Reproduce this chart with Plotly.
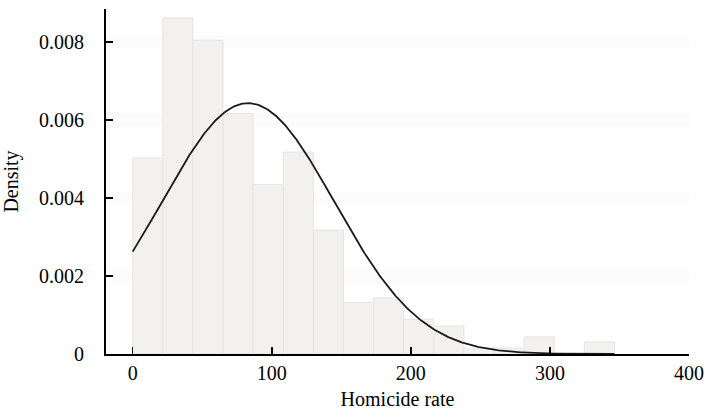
import numpy as np
import plotly.graph_objects as go

# Histogram bins (homicide rate) and densities
bin_width = 21.65
bin_starts = [0, 21.65, 43.3, 64.95, 86.6, 108.25, 129.9, 151.55, 173.2,
              194.85, 216.5, 238.15, 259.8, 281.45, 303.1, 324.75]
densities = [0.00503, 0.00862, 0.00805, 0.00617, 0.00435, 0.00518, 0.00318,
             0.00132, 0.00144, 0.00089, 0.00072, 0.00015, 0.00015, 0.00044,
             0.0, 0.00031]

# Fitted normal density parameters
norm_mean = 83.0
norm_sd = 62.0
data_min, data_max = 0.0, 346.4

x_ticks = [0, 100, 200, 300, 400]
y_ticks = [0, 0.002, 0.004, 0.006, 0.008]
y_tick_labels = ["0", "0.002", "0.004", "0.006", "0.008"]

bin_centers = [s + bin_width / 2 for s in bin_starts]

xs = np.linspace(data_min, data_max, 400)
ys = np.exp(-0.5 * ((xs - norm_mean) / norm_sd) ** 2) / (norm_sd * np.sqrt(2 * np.pi))

fig = go.Figure()
fig.add_trace(go.Bar(
    x=bin_centers, y=densities, width=bin_width,
    marker=dict(color="#f2f1f0", line=dict(color="#e6e5e3", width=1)),
    hoverinfo="skip", showlegend=False,
))
fig.add_trace(go.Scatter(
    x=xs, y=ys, mode="lines",
    line=dict(color="#1a1a1a", width=1.8),
    hoverinfo="skip", showlegend=False,
))

font_family = "Liberation Serif"
fig.update_layout(
    width=707, height=410,
    margin=dict(l=106, r=18, t=9, b=56),
    paper_bgcolor="white", plot_bgcolor="white",
    font=dict(family=font_family, size=20, color="black"),
    bargap=0,
    xaxis=dict(
        range=[-19.2, 400], tickvals=x_ticks, ticks="inside", ticklen=7,
        tickwidth=1.5, tickcolor="black", showline=True, linecolor="black",
        linewidth=2, showgrid=False, zeroline=False, automargin=False,
        title=dict(text="Homicide rate", standoff=10, font=dict(size=20)),
        ticklabelstandoff=0,
    ),
    yaxis=dict(
        range=[0, 0.00885], tickvals=y_ticks, ticktext=y_tick_labels,
        ticks="inside", ticklen=7, tickwidth=1.5, tickcolor="black",
        showline=True, linecolor="black", linewidth=2, automargin=False,
        showgrid=True, gridcolor="#fcfcfc", gridwidth=14, zeroline=False,
        title=dict(text="Density", standoff=17, font=dict(size=20)),
        ticklabelstandoff=16,
    ),
)

fig.write_html(
    "out.html",
    config={"displayModeBar": False, "staticPlot": True},
    post_script="document.body.style.margin='0';document.body.style.overflow='hidden';",
)
